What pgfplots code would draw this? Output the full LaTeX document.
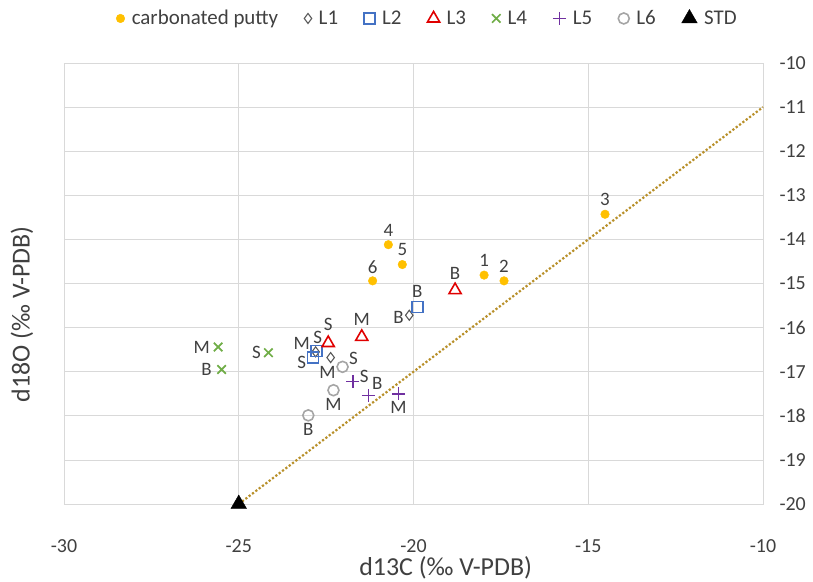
\documentclass[border=0pt]{standalone}
\usepackage{fontspec}
\setmainfont{Carlito}
\usepackage{pgfplots}
\pgfplotsset{compat=1.18}

\definecolor{gridc}{HTML}{D9D9D9}
\definecolor{txt}{HTML}{404040}
\definecolor{putty}{HTML}{FFC000}
\definecolor{cone}{HTML}{595959}
\definecolor{ctwo}{HTML}{4472C4}
\definecolor{cthree}{HTML}{E00000}
\definecolor{cfour}{HTML}{70AD47}
\definecolor{cfive}{HTML}{7030A0}
\definecolor{csix}{HTML}{A5A5A5}
\definecolor{trend}{HTML}{B8902A}

\newcommand{\tickfont}{\fontsize{20}{24}\selectfont}
\newcommand{\legfont}{\fontsize{21}{25}\selectfont}
\newcommand{\ptfont}{\fontsize{19}{22}\selectfont}
\newcommand{\labfont}{\fontsize{26}{30}\selectfont}

\begin{document}
\begin{tikzpicture}
\useasboundingbox (-64bp,-78bp) rectangle (749bp,504bp);
\begin{axis}[
    scale only axis,
    width=699bp, height=441bp,
    xmin=-30, xmax=-10, ymin=-20, ymax=-10,
    xtick={-30,-25,...,-10},
    ytick={-20,-19,...,-10},
    grid=major,
    major grid style={gridc, line width=0.8pt},
    axis line style={gridc, line width=0.8pt},
    tick style={draw=none},
    clip=false,
    yticklabel pos=right,
    /pgf/number format/assume math mode=true,
    ticklabel style={font=\tickfont, text=txt},
    xticklabel style={yshift=-32bp},
    yticklabel style={xshift=13bp},
    xlabel={d13C (‰ V-PDB)},
    ylabel={d18O (‰ V-PDB)},
    label style={font=\labfont, text=txt},
    xlabel style={at={(axis description cs:0.546,-0.145)}, anchor=center},
    ylabel style={at={(axis description cs:-0.06,0.43)}, anchor=center, rotate=0},
    legend style={draw=none, fill=none, font=\legfont, text=txt,
        at={(axis description cs:0.52,1.101)}, anchor=center,
        /tikz/every odd column/.append style={column sep=5bp},
        /tikz/every even column/.append style={column sep=24bp}},
    legend columns=-1,
    legend cell align=left,
]
% line through the standard
\addplot[trend, line width=2.2pt, dotted, forget plot] coordinates {(-25,-20) (-10,-11)};

\addplot[only marks, mark=*, mark size=4.3bp, draw=putty, fill=putty] coordinates {
    (-17.98,-14.81) (-17.41,-14.94) (-14.52,-13.43)
    (-20.72,-14.12) (-20.32,-14.57) (-21.17,-14.94)
};
\addlegendentry{carbonated putty}
\addplot[only marks, mark=diamond, mark size=5bp, mark options={draw=cone, fill=white, line width=1.1pt}] coordinates {
    (-20.12,-15.72) (-22.80,-16.55) (-22.37,-16.68)
};
\addlegendentry{L1}
\addplot[only marks, mark=square, mark size=5.5bp, mark options={draw=ctwo, fill=white, line width=1.6pt}] coordinates {
    (-19.89,-15.53) (-22.77,-16.53) (-22.87,-16.68)
};
\addlegendentry{L2}
\addplot[only marks, mark=triangle, mark size=7bp, mark options={draw=cthree, fill=white, line width=1.6pt}] coordinates {
    (-18.81,-15.15) (-21.48,-16.21) (-22.44,-16.35)
};
\addlegendentry{L3}
\addplot[only marks, mark=x, mark size=6bp, mark options={draw=cfour, line width=1.7pt}] coordinates {
    (-25.59,-16.44) (-25.49,-16.95) (-24.15,-16.57)
};
\addlegendentry{L4}
\addplot[only marks, mark=+, mark size=6.5bp, mark options={draw=cfive, line width=1.7pt}] coordinates {
    (-21.74,-17.22) (-21.29,-17.54) (-20.43,-17.50)
};
\addlegendentry{L5}
\addplot[only marks, mark=o, mark size=5.5bp, mark options={draw=csix, fill=white, line width=1.6pt}] coordinates {
    (-22.03,-16.89) (-22.29,-17.42) (-23.01,-17.99)
};
\addlegendentry{L6}
\addplot[only marks, mark=triangle*, mark size=9bp, mark options={draw=black, fill=black}] coordinates {
    (-25,-20)
};
\addlegendentry{STD}

% sample labels
\addplot[only marks, mark=none, forget plot, point meta=explicit symbolic,
    nodes near coords, nodes near coords align={center},
    every node near coord/.append style={font=\ptfont, text=txt, inner sep=0pt}] coordinates {
    (-14.52,-13.10) [3]
    (-20.72,-13.79) [4]
    (-20.32,-14.23) [5]
    (-17.98,-14.47) [1]
    (-17.41,-14.61) [2]
    (-21.17,-14.63) [6]
    (-18.81,-14.78) [B]
    (-19.89,-15.19) [B]
    (-20.43,-15.76) [B]
    (-21.48,-15.82) [M]
    (-22.44,-15.93) [S]
    (-23.20,-16.35) [M]
    (-22.74,-16.23) [S]
    (-23.20,-16.78) [S]
    (-21.72,-16.70) [S]
    (-22.46,-17.01) [M]
    (-21.41,-17.10) [S]
    (-21.04,-17.27) [B]
    (-22.29,-17.74) [M]
    (-20.43,-17.81) [M]
    (-23.01,-18.31) [B]
    (-26.06,-16.44) [M]
    (-25.92,-16.95) [B]
    (-24.49,-16.57) [S]
};
\end{axis}
\end{tikzpicture}
\end{document}
